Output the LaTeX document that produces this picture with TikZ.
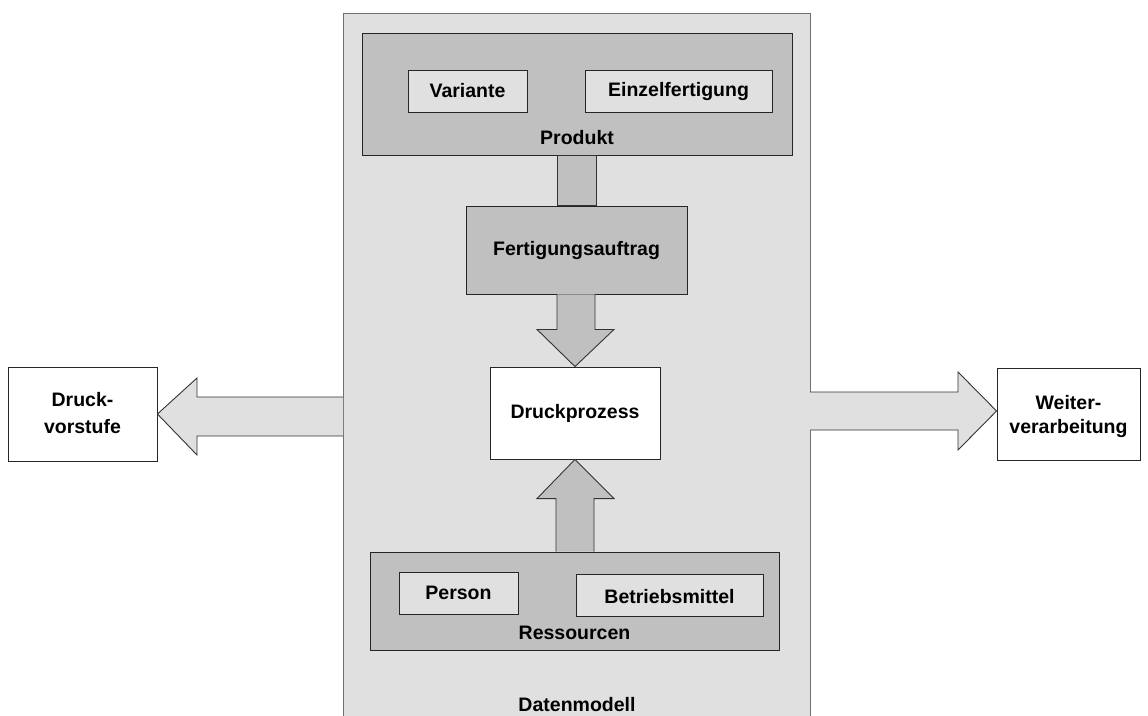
\documentclass[tikz,border=0pt]{standalone}
\usepackage{fontspec}
\setmainfont{Liberation Sans}
\usetikzlibrary{calc}
\definecolor{lightfill}{HTML}{E0E0E0}
\definecolor{darkfill}{HTML}{C0C0C0}
\definecolor{framegray}{HTML}{707070}
\begin{document}
\begin{tikzpicture}[x=1pt,y=-1pt,
  lbl/.style={font=\fontsize{19.5}{25}\selectfont\bfseries, align=center, inner sep=0pt},
  boxbase/.style={draw=black!85, line width=0.9pt, inner sep=0pt},
  groupbox/.style={boxbase, fill=darkfill},
  itembox/.style={boxbase, fill=lightfill},
  plainbox/.style={boxbase, fill=white},
  fatarrow/.style={draw=black!80, line width=0.9pt, line join=miter},
]
\useasboundingbox (0,0) rectangle (1148,715);

% Datenmodell frame (open at the bottom edge)
\coordinate (dmBL) at (343,720);
\coordinate (dmBR) at (810,720);
\fill[lightfill] (343,13) rectangle (810,720);
\draw[framegray, line width=1pt] (dmBL) -- (343,13) -- (810,13) -- (dmBR);
\node[lbl] (dmlabel) at (577,705) {Datenmodell};

% Produkt group
\node[groupbox, minimum width=430, minimum height=122] (produkt) at (577,94) {};
\node[itembox, minimum width=119, minimum height=42] (variante) at (467.5,91) {};
\node[lbl] at (variante) {Variante};
\node[itembox, minimum width=187, minimum height=42] (einzel) at (678.5,91) {};
\node[lbl] at (einzel) {Einzelfertigung};
\node[lbl] (produktlabel) at (577,138) {Produkt};

% Fertigungsauftrag
\node[groupbox, minimum width=221, minimum height=88] (fa) at (576.5,250) {};
\node[lbl] at (fa) {Fertigungsauftrag};

% Produkt -- Fertigungsauftrag link bar
\draw[fatarrow, fill=darkfill] ($(produkt.south)+(-20,0)$) rectangle ($(fa.north)+(19.5,0)$);

% Druckprozess
\node[plainbox, minimum width=170, minimum height=92] (dp) at (575,413) {};
\node[lbl] at (dp) {Druckprozess};

% Fertigungsauftrag -> Druckprozess
\draw[fatarrow, fill=darkfill]
  ($(fa.south)+(-19.5,0)$) -- ($(fa.south)+(-19.5,35)$) -- ($(fa.south)+(-39.5,35)$)
  -- (dp.north) -- ($(fa.south)+(37.5,35)$) -- ($(fa.south)+(18.5,35)$)
  -- ($(fa.south)+(18.5,0)$);

% Ressourcen group
\node[groupbox, minimum width=409, minimum height=98] (res) at (574.5,601) {};
\node[itembox, minimum width=119, minimum height=42] (person) at (458.5,593) {};
\node[lbl] at (person) {Person};
\node[itembox, minimum width=187, minimum height=42] (bm) at (669.5,595) {};
\node[lbl] at ($(bm)+(0,2)$) {Betriebsmittel};
\node[lbl] (reslabel) at (574.5,633) {Ressourcen};

% Ressourcen -> Druckprozess
\draw[fatarrow, fill=darkfill]
  ($(res.north)+(-18.5,0)$) -- ($(res.north)+(-18.5,-53)$) -- ($(res.north)+(-37.5,-53)$)
  -- (dp.south) -- ($(res.north)+(39.5,-53)$) -- ($(res.north)+(19.5,-53)$)
  -- ($(res.north)+(19.5,0)$);

% Druckvorstufe
\node[plainbox, minimum width=149, minimum height=94] (dv) at (82.5,414) {};
\node[lbl, font=\fontsize{19.5}{27}\selectfont\bfseries] at ($(dv)+(0,-1)$) {Druck-\\vorstufe};
\coordinate (dmleft) at (343,416.5);
\draw[fatarrow, fill=lightfill]
  ($(dmleft)+(0,-19.5)$) -- ($(dmleft)+(-146,-19.5)$) -- ($(dmleft)+(-146,-38.5)$)
  -- (dv.east) -- ($(dmleft)+(-146,38.5)$) -- ($(dmleft)+(-146,19.5)$)
  -- ($(dmleft)+(0,19.5)$);

% Weiterverarbeitung
\node[plainbox, minimum width=143, minimum height=92] (wv) at (1068.5,414) {};
\node[lbl, font=\fontsize{19.5}{24}\selectfont\bfseries] at ($(wv)+(0,2)$) {Weiter-\\verarbeitung};
\coordinate (dmright) at (810,411);
\draw[fatarrow, fill=lightfill]
  ($(dmright)+(0,-19)$) -- ($(dmright)+(148,-19)$) -- ($(dmright)+(148,-39)$)
  -- (wv.west |- dmright) -- ($(dmright)+(148,39)$) -- ($(dmright)+(148,19)$)
  -- ($(dmright)+(0,19)$);
\end{tikzpicture}
\end{document}
